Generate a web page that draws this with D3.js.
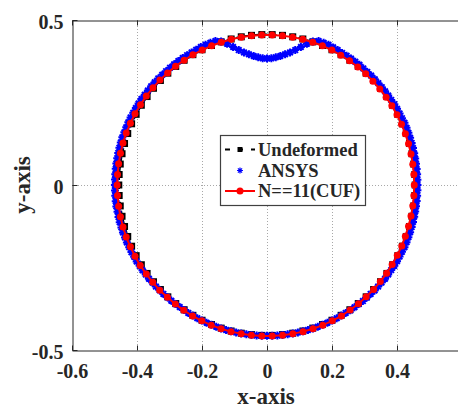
<!DOCTYPE html>
<html>
<head>
<meta charset="utf-8">
<script src="https://cdn.jsdelivr.net/npm/d3@7"></script>
<style>
  body { margin: 0; background: #fff; }
  svg { display: block; }
  text { font-family: "Liberation Serif", "Times New Roman", serif; font-weight: bold; fill: #262626; }
</style>
</head>
<body>
<svg id="chart" width="458" height="408"></svg>
<script>
// tick values
const xTicks = [-0.6, -0.4, -0.2, 0, 0.2, 0.4];
const yTicks = [-0.5, 0, 0.5];
const xGrid = [-0.4, -0.2, 0, 0.2, 0.4];
const yGrid = [0];

// undeformed ring: nominal radius, one marker every 4 degrees
const undeformedStep = 4;
const undeformedRadius = 0.456;

// ANSYS deformed ring, radius read every 2 degrees (0 = +x, counter-clockwise)
const ansysStep = 2;
const ansysR = [
  .463, .463, .463, .463, .463, .463, .463, .463, .463, .463, .463,
  .463, .463, .462, .462, .462, .462, .461, .461, .461, .461,
  .461, .461, .461, .461, .461, .462, .462, .462, .462,
  .462, .463, .464, .465, .465, .464, .457, .445, .431, .418, .408, .400, .393, .388, .384, .383,
  .384, .388, .393, .400, .408, .418, .431, .445, .457, .464, .465, .465, .465, .464, .464,
  .464, .464, .464, .464, .464, .464, .464, .465, .465, .465, .465, .465, .466, .466, .466,
  .466, .467, .467, .467, .467, .468, .468, .468, .468, .468, .468, .468, .468, .468,
  .468, .468, .468, .468, .468, .467, .467, .467, .466, .466, .465, .465, .464, .464, .463,
  .463, .462, .462, .461, .461, .460, .460, .459, .459, .458, .458, .458, .457, .457, .457,
  .457, .457, .457, .457, .457, .457, .457, .457, .457, .457, .457, .457, .457, .457, .457, .457,
  .457, .457, .457, .457, .457, .457, .457, .457, .457, .457, .457, .457, .457, .457, .457,
  .457, .458, .458, .458, .459, .459, .459, .460, .460, .460, .461, .461, .461, .462, .462,
  .462, .462, .463, .463, .463, .463, .463, .463, .463, .463, .463, .463, .463, .463
];

// N==11 (CUF) ring, radius read every 4 degrees
const cufStep = 4;
const cufR = [
  .453, .453, .453, .453, .453, .453, .453, .453, .453, .453, .453, .453,
  .454, .454, .454, .454,
  .455, .455, .455, .455, .455, .455, .455, .455, .455, .455, .455, .455, .455, .455,
  .456, .456, .457, .457, .458, .458, .459, .459, .460, .460,
  .461, .461, .461, .461, .461, .461, .461, .461, .461, .461, .461,
  .460, .460, .460, .459, .459, .459, .458, .458,
  .458, .458, .458, .458, .458, .458, .458, .458, .458, .458, .458, .458, .458, .458, .458, .458, .458,
  .457, .457, .456, .456, .455, .455, .454, .454, .454, .453, .453, .453, .453, .453
];

const legendLabels = ["Undeformed", "ANSYS", "N==11(CUF)"];

// ---- layout
const svg = d3.select("#chart");
const serif = '"Liberation Serif", "Times New Roman", serif';
const plotLeft = 72, plotRight = 462, plotTop = 20, plotBottom = 350;

const x = d3.scaleLinear().domain([-0.6, 0.6]).range([plotLeft, plotRight]);
const y = d3.scaleLinear().domain([-0.5, 0.5]).range([plotBottom, plotTop]);

// polar -> data points
function ring(radii, step) {
  return radii.map((r, i) => {
    const a = (i * step * Math.PI) / 180;
    return [r * Math.cos(a), r * Math.sin(a)];
  });
}

const undeformedPts = d3.range(0, 360, undeformedStep).map((deg) => {
  const a = (deg * Math.PI) / 180;
  return [undeformedRadius * Math.cos(a), undeformedRadius * Math.sin(a)];
});
const ansysPts = ring(ansysR, ansysStep);
const cufPts = ring(cufR, cufStep);

// grid
const grid = svg.append("g").attr("stroke", "#a8a8a8").attr("stroke-width", 1)
  .attr("stroke-dasharray", "1,2");
xGrid.forEach((v) => {
  grid.append("line")
    .attr("x1", Math.round(x(v)) + 0.5).attr("x2", Math.round(x(v)) + 0.5)
    .attr("y1", plotTop).attr("y2", plotBottom);
});
yGrid.forEach((v) => {
  grid.append("line")
    .attr("x1", plotLeft).attr("x2", plotRight)
    .attr("y1", Math.round(y(v)) + 0.5).attr("y2", Math.round(y(v)) + 0.5);
});

const plot = svg.append("g");
const line = d3.line().x((d) => x(d[0])).y((d) => y(d[1])).curve(d3.curveLinearClosed);

// undeformed: dashed black with squares
plot.append("path")
  .attr("d", line(undeformedPts))
  .attr("fill", "none").attr("stroke", "#000").attr("stroke-width", 2)
  .attr("stroke-dasharray", "5,4");
plot.selectAll("rect.und").data(undeformedPts).join("rect")
  .attr("class", "und")
  .attr("x", (d) => x(d[0]) - 3.5).attr("y", (d) => y(d[1]) - 3.5)
  .attr("width", 7).attr("height", 7).attr("fill", "#000");

// ANSYS: blue asterisks
function asterisk(sel, s, w) {
  sel.append("path")
    .attr("d", `M${-s},0H${s}M0,${-s}V${s}M${-s * 0.7},${-s * 0.7}L${s * 0.7},${s * 0.7}M${-s * 0.7},${s * 0.7}L${s * 0.7},${-s * 0.7}`)
    .attr("fill", "none").attr("stroke", "#0000ff").attr("stroke-width", w);
}
plot.selectAll("g.ans").data(ansysPts).join("g")
  .attr("class", "ans")
  .attr("transform", (d) => `translate(${x(d[0])},${y(d[1])})`)
  .each(function () { asterisk(d3.select(this), 4, 2); });

// CUF: red line with circles
plot.append("path")
  .attr("d", line(cufPts))
  .attr("fill", "none").attr("stroke", "#ff0000").attr("stroke-width", 2);
plot.selectAll("circle.cuf").data(cufPts).join("circle")
  .attr("class", "cuf")
  .attr("cx", (d) => x(d[0])).attr("cy", (d) => y(d[1]))
  .attr("r", 3.5).attr("fill", "#ff0000");

// axes (MATLAB-style hyphen minus)
const fmt = (d) => String(d);
const xAxis = svg.append("g")
  .attr("transform", `translate(0,${plotBottom + 0.5})`)
  .call(d3.axisBottom(x).tickValues(xTicks).tickFormat(fmt).tickSizeInner(-5).tickSizeOuter(0).tickPadding(13));
const xAxisTop = svg.append("g")
  .attr("transform", `translate(0,${plotTop + 0.5})`)
  .call(d3.axisTop(x).tickValues(xTicks).tickFormat("").tickSizeInner(-5).tickSizeOuter(0));
const yAxis = svg.append("g")
  .attr("transform", `translate(${plotLeft + 0.5},0)`)
  .call(d3.axisLeft(y).tickValues(yTicks).tickFormat(fmt).tickSizeInner(-5).tickSizeOuter(0).tickPadding(9));

[xAxis, xAxisTop, yAxis].forEach((g) => {
  g.attr("font-family", serif).attr("font-size", 20).attr("font-weight", "bold");
  g.select(".domain").attr("stroke", "#262626");
  g.selectAll(".tick line").attr("stroke", "#262626");
  g.selectAll("text")
    .style("font-family", serif).style("font-weight", "bold").style("font-size", "20px")
    .attr("fill", "#262626");
});
yAxis.selectAll("text").attr("dy", "0.4em");

// axis titles
svg.append("text").attr("x", (plotLeft + 462) / 2 - 1).attr("y", 404)
  .attr("text-anchor", "middle").attr("font-size", 23).text("x-axis");
svg.append("text").attr("transform", `translate(30,${y(0)}) rotate(-90)`)
  .attr("text-anchor", "middle").attr("font-size", 23).text("y-axis");

// legend
const lg = svg.append("g").attr("transform", "translate(220,135)");
lg.append("rect").attr("x", 0.5).attr("y", 0.5).attr("width", 145).attr("height", 70)
  .attr("fill", "#fff").attr("stroke", "#404040").attr("stroke-width", 1.2);
const rowY = [14.5, 35.5, 56];
const sx0 = 5, sx1 = 35, sxm = 20;
// undeformed sample
lg.append("line").attr("x1", sx0).attr("x2", sx1).attr("y1", rowY[0]).attr("y2", rowY[0])
  .attr("stroke", "#000").attr("stroke-width", 2).attr("stroke-dasharray", "5,8");
lg.append("rect").attr("x", sxm - 2.5).attr("y", rowY[0] - 2.5).attr("width", 5).attr("height", 5).attr("fill", "#000");
// ansys sample
const la = lg.append("g").attr("transform", `translate(${sxm},${rowY[1]})`);
asterisk(la, 3, 1.2);
// cuf sample
lg.append("line").attr("x1", sx0).attr("x2", sx1).attr("y1", rowY[2]).attr("y2", rowY[2])
  .attr("stroke", "#ff0000").attr("stroke-width", 2);
lg.append("circle").attr("cx", sxm).attr("cy", rowY[2]).attr("r", 3.5).attr("fill", "#ff0000");

lg.selectAll("text.lab").data(legendLabels).join("text")
  .attr("class", "lab")
  .attr("x", 38).attr("y", (d, i) => rowY[i] + 6)
  .attr("font-size", 18.5).attr("fill", "#000")
  .text((d) => d);
</script>
</body>
</html>
